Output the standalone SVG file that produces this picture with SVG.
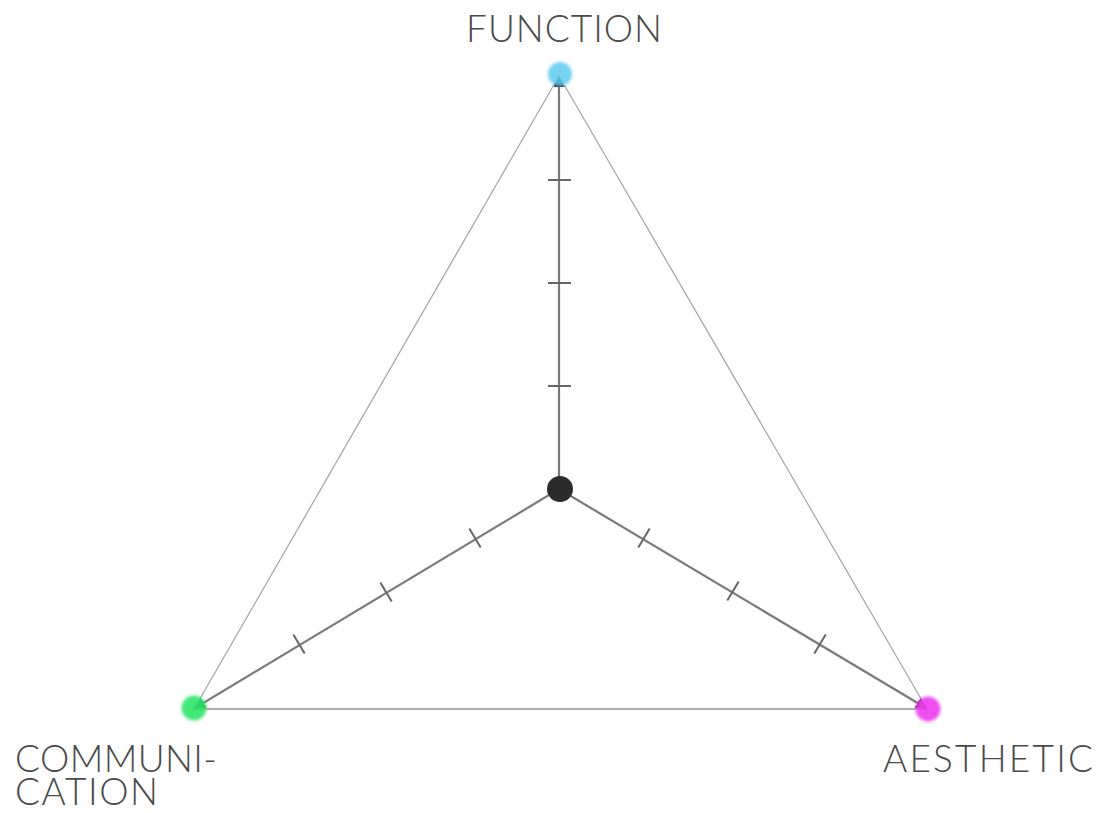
<svg xmlns="http://www.w3.org/2000/svg" width="1103" height="813" viewBox="0 0 1103 813">
<style>
.lbl{font-family:Lato,"Open Sans","Liberation Sans",sans-serif;font-weight:300;font-size:37px;fill:#4a4a4a}
.edge{fill:none;stroke:#a8a8a8;stroke-width:1.3}
.axis{fill:none;stroke:#7a7a7a;stroke-width:2.2}
.tick{stroke:#666;stroke-width:2}
</style>
<defs>
<filter id="blur" x="-50%" y="-50%" width="200%" height="200%"><feGaussianBlur stdDeviation="1.6"/></filter>
<marker id="arr" viewBox="0 0 10 10" refX="9" refY="5" markerWidth="5" markerHeight="5" orient="auto" markerUnits="strokeWidth">
<path d="M0,0 L10,5 L0,10 z" fill="#333"/>
</marker>
</defs>
<rect width="1103" height="813" fill="#fff"/>
<g id="connectors">
<path class="edge" d="M559,76 L194,709 L927,709 Z"/>
<path class="edge" d="M194,709 L927,709" stroke="#bdbdbd" stroke-width="2"/>
<line class="axis" x1="559" y1="489" x2="559" y2="77" marker-end="url(#arr)"/>
<line class="axis" x1="559" y1="489" x2="195" y2="708" marker-end="url(#arr)"/>
<line class="axis" x1="559" y1="489" x2="926" y2="708" marker-end="url(#arr)"/>
<line class="tick" x1="548" y1="180" x2="571" y2="180"/>
<line class="tick" x1="548" y1="283" x2="571" y2="283"/>
<line class="tick" x1="548" y1="386" x2="571" y2="386"/>
<line class="tick" x1="469.3" y1="528.6" x2="480.7" y2="547.4"/>
<line class="tick" x1="380.3" y1="582.6" x2="391.7" y2="601.4"/>
<line class="tick" x1="293.3" y1="634.6" x2="304.7" y2="653.4"/>
<line class="tick" x1="649.7" y1="528.6" x2="638.3" y2="547.4"/>
<line class="tick" x1="738.7" y1="581.6" x2="727.3" y2="600.4"/>
<line class="tick" x1="825.7" y1="634.6" x2="814.3" y2="653.4"/>
</g>
<g id="node-center"><circle cx="560" cy="489" r="13" fill="#2b2b2b"/></g>
<g id="node-function">
<circle cx="560" cy="74" r="12" fill="#5ecaf2" opacity="0.85" filter="url(#blur)"/>
<text class="lbl" x="466" y="42" textLength="196" lengthAdjust="spacing">FUNCTION</text>
</g>
<g id="node-communication">
<circle cx="194" cy="708" r="12.5" fill="#2fe56a" opacity="0.9" filter="url(#blur)"/>
<text class="lbl"><tspan x="15" y="772" textLength="202" lengthAdjust="spacing">COMMUNI-</tspan><tspan x="15" y="805" textLength="143" lengthAdjust="spacing">CATION</tspan></text>
</g>
<g id="node-aesthetic">
<circle cx="928" cy="709" r="12.5" fill="#ee3cef" opacity="0.9" filter="url(#blur)"/>
<text class="lbl" x="883" y="772" textLength="210" lengthAdjust="spacing">AESTHETIC</text>
</g>
</svg>
